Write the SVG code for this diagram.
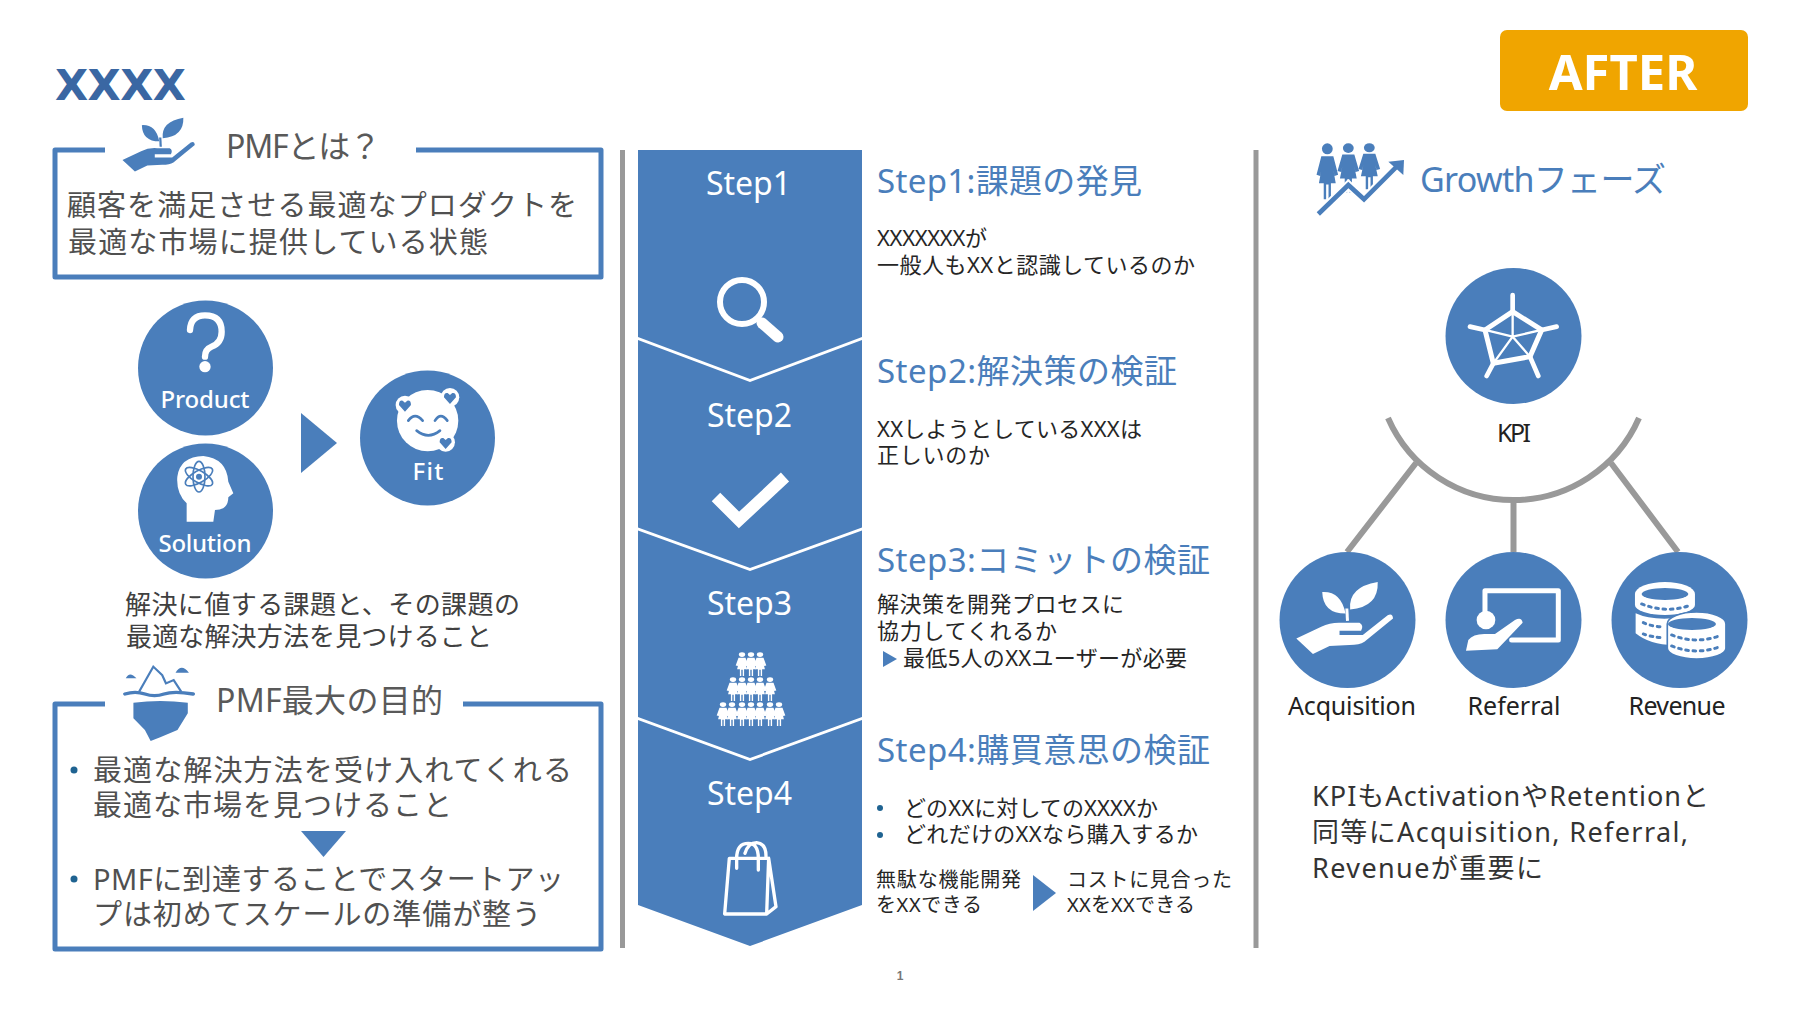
<svg xmlns="http://www.w3.org/2000/svg" width="1800" height="1012" viewBox="0 0 1800 1012">
<style>
text{font-family:"Noto Sans","Noto Sans CJK JP",sans-serif}
.box{fill:none;stroke:#4A7EBB;stroke-width:5;stroke-linejoin:round}
.div{stroke:#999;stroke-width:5;fill:none}
.con{stroke:#999;stroke-width:6;fill:none}
.b{fill:#4A7EBB}
.w{fill:#fff}
.ws{fill:none;stroke:#fff;stroke-linecap:round;stroke-linejoin:round}
.bs{fill:none;stroke:#4A7EBB;stroke-linecap:round;stroke-linejoin:round}
.h1{font-size:32px;fill:#595959}
.big{font-size:29px;fill:#505050}
.mid{font-size:26px;fill:#404040}
.head{font-size:33px;fill:#4A7EBB}
.body{font-size:22px;fill:#262626}
.sm{font-size:20px;fill:#262626}
.step{font-size:32px;fill:#fff;text-anchor:middle}
.cl{font-size:24px;font-weight:500;fill:#fff;text-anchor:middle}
.lab{font-size:25px;fill:#222;text-anchor:middle}
.kt{font-size:27px;fill:#333}
.dot{fill:#1F6391}
</style>
<defs>
<symbol id="plant" viewBox="100 540 310 230" overflow="visible">
<path fill="currentColor" d="M110 715L185 680Q215 665 250 668L300 668Q314 676 305 692L240 692L240 705L310 705L385 645Q400 638 401 655L315 725Q300 735 270 735L210 738L160 762Z"/>
<path fill="currentColor" d="M188 575Q245 572 258 640Q190 640 188 575ZM355 545Q358 620 272 628Q265 560 355 545Z"/>
<path fill="none" stroke="currentColor" stroke-width="9" d="M262 625L264 662"/>
</symbol>
<symbol id="person" viewBox="0 0 20 46" overflow="visible" preserveAspectRatio="none">
<circle cx="10" cy="5" r="4.500" fill="currentColor"/>
<path fill="currentColor" d="M5 11L15 11L19 26L16 27L15 22L17 33L13 33L13 46L11 46L11 34L9 34L9 46L7 46L7 33L3 33L5 22L4 27L1 26Z"/>
</symbol>
</defs>
<rect width="1800" height="1012" fill="#fff"/>

<g id="title"><text x="55" y="100" font-size="43" font-weight="700" fill="#3A67A3" textLength="131" style="font-family:'DejaVu Sans',sans-serif">XXXX</text></g>
<g id="after-badge"><rect x="1500" y="30" width="248" height="81" rx="7" fill="#F0A500"/><text x="1623" y="90" font-size="49" font-weight="700" fill="#fff" text-anchor="middle" style="font-family:'Noto Sans',sans-serif">AFTER</text></g>

<g id="pmf-box">
<path class="box" d="M105 150H55V277H601V150H416"/>
<use href="#plant" x="120" y="116" width="77" height="58" color="#4A7EBB"/>
<text class="h1" x="226" y="158" textLength="155">PMFとは？</text>
<text class="big" x="67" y="216" textLength="510">顧客を満足させる最適なプロダクトを</text>
<text class="big" x="68" y="253" textLength="420">最適な市場に提供している状態</text>
</g>

<g id="product"><circle class="b" cx="205.500" cy="368" r="67.500"/>
<g transform="translate(100 290) scale(.3333)"><path class="ws" stroke-width="19" d="M270 120Q272 76 315 76Q365 76 365 125Q365 158 335 170Q315 178 315 200"/><circle class="w" cx="315" cy="230" r="17"/></g>
<text class="cl" x="205" y="408" textLength="89">Product</text></g>

<g id="solution"><circle class="b" cx="205.500" cy="511" r="67.500"/>
<g transform="translate(100 290) scale(.3333)"><path class="w" d="M260 695L260 640Q228 610 232 560Q240 500 310 498Q380 505 385 575L400 610L385 622Q385 660 345 660L340 695Z"/>
<g class="bs" stroke-width="5"><ellipse cx="297" cy="560" rx="46" ry="18" transform="rotate(30 297 560)"/><ellipse cx="297" cy="560" rx="46" ry="18" transform="rotate(-30 297 560)"/><ellipse cx="297" cy="560" rx="46" ry="18" transform="rotate(90 297 560)"/></g><circle class="b" cx="297" cy="560" r="9"/></g>
<text class="cl" x="205" y="552" textLength="93">Solution</text></g>

<g id="fit"><circle class="b" cx="427.500" cy="438" r="67.500"/>
<g transform="translate(100 290) scale(.3333)"><circle class="w" cx="983" cy="392" r="92"/>
<circle class="w" cx="915" cy="345" r="28"/><circle class="w" cx="1050" cy="322" r="28"/><circle class="w" cx="1037" cy="457" r="28"/>
<path class="b" d="M915 365L897 345Q897 330 908 332L915 338L922 332Q933 330 933 345ZM1050 342L1032 322Q1032 307 1043 309L1050 315L1057 309Q1068 307 1068 322ZM1037 477L1019 457Q1019 442 1030 444L1037 450L1044 444Q1055 442 1055 457Z"/>
<path class="bs" stroke-width="8" d="M925 392Q945 365 968 392M1005 392Q1022 365 1042 392M950 422Q985 450 1020 422"/></g>
<text class="cl" x="428" y="480" textLength="31">Fit</text></g>

<g id="pmf-caption">
<text class="mid" x="125" y="614" textLength="395">解決に値する課題と、その課題の</text>
<text class="mid" x="126" y="646" textLength="366">最適な解決方法を見つけること</text></g>

<g id="purpose-box">
<path class="box" d="M105 704H55V949H601V704H463"/>
<g transform="translate(30 650) scale(.383 .3333)">
<path d="M285 125L322 50L345 75L355 100L375 90L395 125" fill="#fff" stroke="#4A7EBB" stroke-width="6"/>
<path class="bs" stroke-width="10" d="M248 132Q275 122 300 132T350 132T426 132"/>
<path class="b" d="M270 158Q340 148 412 158L412 190L385 240L340 262L315 273L300 240L270 205ZM250 85Q260 62 278 85ZM380 68Q395 38 415 68Z"/></g>
<text class="h1" x="216" y="712" textLength="227">PMF最大の目的</text>
<circle class="dot" cx="74" cy="770" r="3.500"/><circle class="dot" cx="74" cy="879" r="3.500"/>
<text class="big" x="93" y="781" textLength="479">最適な解決方法を受け入れてくれる</text>
<text class="big" x="93" y="816" textLength="359">最適な市場を見つけること</text>
<text class="big" x="93" y="890" textLength="471">PMFに到達することでスタートアッ</text>
<text class="big" x="93" y="925" textLength="448">プは初めてスケールの準備が整う</text>
</g>

<g id="connectors">
<polygon class="b" points="301,413 337,443 301,473"/>
<polygon class="b" points="301,831 346,831 323.5,857"/>
<polygon class="b" points="883,651 897,659 883,667"/>
<polygon class="b" points="1033,875 1056,893 1033,911"/>
<path class="con" d="M1416 463L1347 552M1513.500 500V552M1611 463L1678 552"/>
<path class="con" d="M1388 418A137 137 0 0 0 1639 418"/>
</g>
<g id="dividers"><path class="div" d="M622.500 150V948M1256 150V948"/></g>

<g id="step1"><polygon class="b" points="638,150 862,150 862,337 750,379 638,337"/>
<text class="step" x="748.500" y="195">Step1</text>
<circle cx="742" cy="302" r="22" fill="none" stroke="#fff" stroke-width="6"/><path class="ws" stroke-width="11" d="M762 323L778 337"/>
<text class="head" x="877" y="193" textLength="265">Step1:課題の発見</text>
<text class="body" x="877" y="246" textLength="110">XXXXXXXが</text>
<text class="body" x="877" y="273" textLength="318">一般人もXXと認識しているのか</text></g>

<g id="step2"><polygon class="b" points="638,340 750,382 862,340 862,527.500 750,568 638,527.500"/>
<text class="step" x="749.500" y="427">Step2</text>
<path d="M716 497L739 520L785 477" fill="none" stroke="#fff" stroke-width="12"/>
<text class="head" x="877" y="383" textLength="300">Step2:解決策の検証</text>
<text class="body" x="877" y="437" textLength="265">XXしようとしているXXXは</text>
<text class="body" x="877" y="463" textLength="113">正しいのか</text></g>

<g id="step3"><polygon class="b" points="638,530.500 750,571 862,530.500 862,717 750,758 638,717"/>
<text class="step" x="749.500" y="615">Step3</text>
<g color="#fff" id="pyramid">
<use href="#person" x="735" y="652" width="14" height="24"/><use href="#person" x="744" y="652" width="14" height="24"/><use href="#person" x="753" y="652" width="14" height="24"/>
<use href="#person" x="726" y="677" width="14" height="24"/><use href="#person" x="735" y="677" width="14" height="24"/><use href="#person" x="744" y="677" width="14" height="24"/><use href="#person" x="753" y="677" width="14" height="24"/><use href="#person" x="763" y="677" width="14" height="24"/>
<use href="#person" x="716" y="702" width="14" height="24"/><use href="#person" x="725" y="702" width="14" height="24"/><use href="#person" x="735" y="702" width="14" height="24"/><use href="#person" x="744" y="702" width="14" height="24"/><use href="#person" x="753" y="702" width="14" height="24"/><use href="#person" x="763" y="702" width="14" height="24"/><use href="#person" x="772" y="702" width="14" height="24"/></g>
<text class="head" x="877" y="572" textLength="333">Step3:コミットの検証</text>
<text class="body" x="877" y="612" textLength="247">解決策を開発プロセスに</text>
<text class="body" x="877" y="639" textLength="180">協力してくれるか</text>
<text class="body" x="903" y="666" textLength="284">最低5人のXXユーザーが必要</text></g>

<g id="step4"><polygon class="b" points="638,720 750,761 862,720 862,905 750,946 638,905"/>
<text class="step" x="749.500" y="805">Step4</text>
<g transform="translate(620 560) scale(.3333)"><path class="ws" stroke-width="10" d="M328 895L314 1062L440 1062L446 895ZM446 895L468 1040L440 1062M350 925L350 895Q350 850 385 850Q415 850 415 895L415 930M375 880Q385 848 410 848Q440 850 438 895"/></g>
<text class="head" x="877" y="762" textLength="333">Step4:購買意思の検証</text>
<circle class="dot" cx="880" cy="808" r="3"/><circle class="dot" cx="880" cy="835" r="3"/>
<text class="body" x="904" y="816" textLength="254">どのXXに対してのXXXXか</text>
<text class="body" x="904" y="842" textLength="294">どれだけのXXなら購入するか</text>
<text class="sm" x="876" y="887" textLength="145">無駄な機能開発</text>
<text class="sm" x="876" y="912" textLength="106">をXXできる</text>
<text class="sm" x="1067" y="887" textLength="165">コストに見合った</text>
<text class="sm" x="1067" y="912" textLength="128">XXをXXできる</text></g>

<g id="growth-header"><g transform="translate(1290 130) scale(.3333)">
<g color="#4A7EBB"><use href="#person" x="76" y="38" width="72" height="170"/><use href="#person" x="139" y="38" width="72" height="150"/><use href="#person" x="202" y="38" width="72" height="140"/></g>
<path d="M85 252L175 165L222 208L320 110" fill="none" stroke="#fff" stroke-width="26"/>
<path d="M85 252L175 165L222 208L320 110" fill="none" stroke="#4A7EBB" stroke-width="14"/>
<polygon class="b" points="295,95 342,90 340,135"/></g>
<text x="1420" y="192" font-size="34" fill="#4A7EBB" textLength="246">Growthフェーズ</text></g>

<g id="kpi"><circle class="b" cx="1513.500" cy="336" r="68"/>
<g transform="translate(1290 130) scale(.3333)"><path class="ws" stroke-width="15" d="M668 545L755 600L720 680L610 700L585 600Z"/><path class="ws" stroke-width="14" stroke-linecap="butt" d="M668 495V545M800 590L755 600M745 738L720 680M590 738L610 700M540 590L585 600"/><path class="ws" stroke-width="7" d="M668 545L668 620M755 600L668 620M720 680L668 620M610 700L668 620M585 600L668 620"/></g>
<text class="lab" x="1514" y="442" textLength="34">KPI</text></g>

<g id="acquisition"><circle class="b" cx="1347.500" cy="620" r="68"/><use href="#plant" x="1293" y="580" width="103" height="77" color="#fff"/><text class="lab" x="1352" y="715" textLength="128">Acquisition</text></g>

<g id="referral"><circle class="b" cx="1513.500" cy="620" r="68"/>
<g transform="translate(1260 400) scale(.3333)"><path class="ws" stroke-width="15" stroke-linecap="butt" d="M675 632V572H895V720H755"/><circle class="w" cx="678" cy="660" r="28"/><path class="w" d="M618 752L625 720Q640 700 680 702L705 702L765 660Q785 650 788 668L712 748Z"/></g>
<text class="lab" x="1514" y="715" textLength="93">Referral</text></g>

<g id="revenue"><circle class="b" cx="1679.500" cy="620" r="68"/>
<g transform="translate(1260 400) scale(.3333)">
<path class="w" d="M1125 582A90 36 0 0 1 1305 582V615A90 30 0 0 1 1125 615Z"/><ellipse class="b" cx="1215" cy="582" rx="70" ry="18"/>
<path class="w" d="M1127 640Q1170 660 1240 655V735Q1170 735 1127 700Z"/>
<path class="bs" stroke-width="9" stroke-linecap="butt" stroke-dasharray="8 14" d="M1145 612Q1215 640 1285 618M1150 668Q1170 678 1200 680M1150 702Q1170 710 1210 714"/>
<path class="w" d="M1222 672A88 36 0 0 1 1398 672V745A88 32 0 0 1 1222 745Z" stroke="#4A7EBB" stroke-width="5"/><ellipse class="b" cx="1296" cy="672" rx="72" ry="18"/>
<path class="bs" stroke-width="9" stroke-linecap="butt" stroke-dasharray="8 14" d="M1235 705Q1310 735 1385 705M1235 738Q1310 768 1385 738"/></g>
<text class="lab" x="1677" y="715" textLength="97">Revenue</text></g>

<g id="kpi-text">
<text class="kt" x="1312" y="806" textLength="397">KPIもActivationやRetentionと</text>
<text class="kt" x="1312" y="842" textLength="376">同等にAcquisition, Referral,</text>
<text class="kt" x="1312" y="878" textLength="231">Revenueが重要に</text></g>

<g id="page-number"><text x="900" y="980" font-size="12" font-weight="700" fill="#777" text-anchor="middle" style="font-family:'Liberation Sans',sans-serif">1</text></g>
</svg>
